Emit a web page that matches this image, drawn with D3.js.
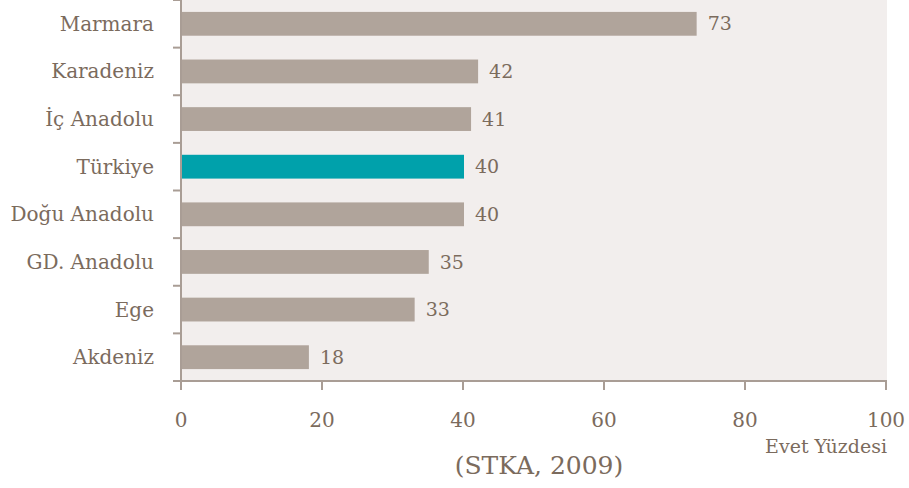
<!DOCTYPE html>
<html>
<head>
<meta charset="utf-8">
<script src="https://cdn.jsdelivr.net/npm/d3@7"></script>
<style>
  body { margin: 0; background: #fff; }
  text { font-family: 'DejaVu Serif', serif; }
</style>
</head>
<body>
<script>
let regions = ['Marmara', 'Karadeniz', 'İç Anadolu', 'Türkiye', 'Doğu Anadolu', 'GD. Anadolu', 'Ege', 'Akdeniz']
let values = [73, 42, 41, 40, 40, 35, 33, 18]
let highlight = ['Türkiye']
let xTicks = [0, 20, 40, 60, 80, 100]

let width = 909
let height = 488
let plotLeft = 181
let plotRight = 886
let plotTop = 0
let plotBottom = 381
let textColor = '#7b6b5d'
let axisColor = '#a99d95'

let svg = d3.select('body')
  .append('svg')
  .attr('width', width)
  .attr('height', height)

let scaleX = d3.scaleLinear().domain([0, 100]).range([plotLeft, plotRight])
let scaleY = d3.scaleBand().domain(regions).range([plotTop, plotBottom]).paddingInner(0.5).paddingOuter(0.25)
let bandY = d3.scaleBand().domain(regions).range([plotTop, plotBottom])

// plot background
svg.append('rect')
  .attr('x', plotLeft)
  .attr('y', plotTop)
  .attr('width', plotRight - plotLeft + 1)
  .attr('height', plotBottom - plotTop)
  .attr('fill', '#f2eeed')

svg.selectAll('rect.bar')
  .data(values)
  .enter()
  .append('rect')
  .attr('class', 'bar')
  .attr('x', scaleX(0) + 1)
  .attr('y', (d, i) => scaleY(regions[i]))
  .attr('width', d => scaleX(d) - scaleX(0))
  .attr('height', scaleY.bandwidth())
  .attr('fill', (d, i) => highlight.includes(regions[i]) ? '#00a1ab' : '#b0a49b')

svg.selectAll('text.val')
  .data(values)
  .enter()
  .append('text')
  .attr('class', 'val')
  .attr('x', d => scaleX(d) + 12)
  .attr('y', (d, i) => scaleY(regions[i]) + scaleY.bandwidth() / 2)
  .attr('dy', '0.35em')
  .attr('font-size', 19)
  .attr('fill', textColor)
  .text(d => d)

// y axis: ticks at band boundaries
let yAxis = svg.append('g')
yAxis.append('line')
  .attr('x1', plotLeft).attr('x2', plotLeft)
  .attr('y1', plotTop).attr('y2', plotBottom + 9)
  .attr('stroke', axisColor).attr('stroke-width', 2)
yAxis.selectAll('line.tick')
  .data(regions.concat(['end']))
  .enter()
  .append('line')
  .attr('class', 'tick')
  .attr('x1', plotLeft - 8).attr('x2', plotLeft)
  .attr('y1', (d, i) => i < regions.length ? bandY(d) : plotBottom)
  .attr('y2', (d, i) => i < regions.length ? bandY(d) : plotBottom)
  .attr('stroke', axisColor).attr('stroke-width', 2)
yAxis.selectAll('text')
  .data(regions)
  .enter()
  .append('text')
  .attr('x', plotLeft - 27)
  .attr('y', d => bandY(d) + bandY.bandwidth() / 2)
  .attr('dy', '0.35em')
  .attr('text-anchor', 'end')
  .attr('font-size', 20)
  .attr('fill', textColor)
  .text(d => d)

// x axis
let xAxis = svg.append('g')
xAxis.append('line')
  .attr('x1', plotLeft - 8).attr('x2', plotRight + 1)
  .attr('y1', plotBottom).attr('y2', plotBottom)
  .attr('stroke', axisColor).attr('stroke-width', 2)
xAxis.selectAll('line.tick')
  .data(xTicks)
  .enter()
  .append('line')
  .attr('class', 'tick')
  .attr('x1', d => scaleX(d)).attr('x2', d => scaleX(d))
  .attr('y1', plotBottom).attr('y2', plotBottom + 9)
  .attr('stroke', axisColor).attr('stroke-width', 2)
xAxis.selectAll('text')
  .data(xTicks)
  .enter()
  .append('text')
  .attr('x', d => scaleX(d))
  .attr('y', 427)
  .attr('text-anchor', 'middle')
  .attr('font-size', 20)
  .attr('fill', textColor)
  .text(d => d)

svg.append('text')
  .attr('x', plotRight + 1)
  .attr('y', 453)
  .attr('text-anchor', 'end')
  .attr('font-size', 19)
  .attr('fill', textColor)
  .text('Evet Yüzdesi')

svg.append('text')
  .attr('x', 539)
  .attr('y', 474)
  .attr('text-anchor', 'middle')
  .attr('font-size', 25)
  .attr('fill', textColor)
  .text('(STKA, 2009)')
</script>
</body>
</html>
